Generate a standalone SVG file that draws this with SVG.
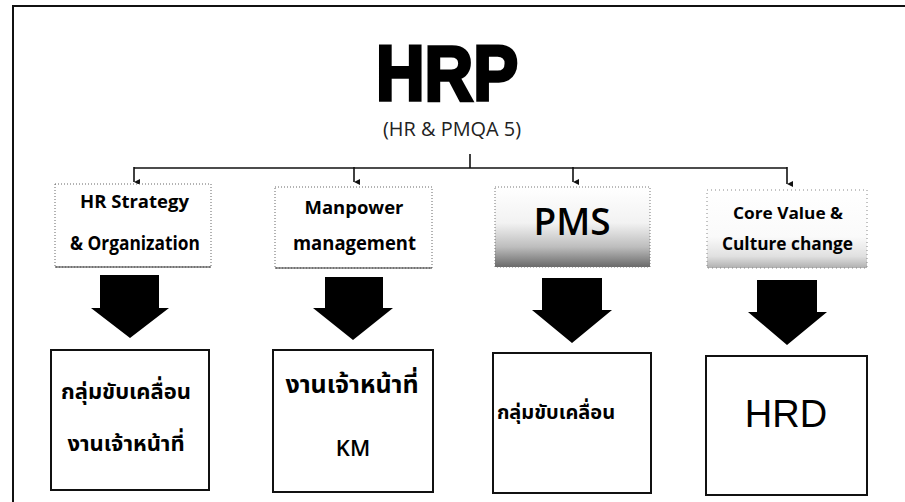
<svg xmlns="http://www.w3.org/2000/svg" width="905" height="502" viewBox="0 0 905 502">
  <defs>
    <style>
      .frame{stroke:#111;stroke-width:2;fill:none}
      .conn{stroke:#111;stroke-width:1.6;fill:none}
      .topbox{fill:#fff;stroke:#666;stroke-width:1;stroke-dasharray:1 2}
      .topbase{stroke:#333;stroke-width:1.2}
      .bigarrow{fill:#000}
      .botbox{fill:#fff;stroke:#111;stroke-width:2}
      .lbl{font-family:"Open Sans","DejaVu Sans",sans-serif;font-weight:bold;fill:#000;text-anchor:middle}
      .thai{font-family:"Noto Sans Thai","Noto Sans Thai UI","Loma","Tlwg Typo","DejaVu Sans",sans-serif;font-weight:bold;fill:#000;text-anchor:middle}
    </style>
    <marker id="tip" viewBox="0 0 6 6" refX="3" refY="6" markerWidth="6" markerHeight="6" orient="auto-start-reverse" markerUnits="userSpaceOnUse">
      <path d="M0,0 L6,0 L3,6 Z" fill="#111"/>
    </marker>
    <linearGradient id="pmsg" x1="0" y1="0" x2="0" y2="1">
      <stop offset="0" stop-color="#fff"/>
      <stop offset="0.45" stop-color="#f2f2f2"/>
      <stop offset="0.75" stop-color="#bdbdbd"/>
      <stop offset="1" stop-color="#6a6a6a"/>
    </linearGradient>
    <linearGradient id="coreg" x1="0" y1="0" x2="0" y2="1">
      <stop offset="0" stop-color="#fff"/>
      <stop offset="0.6" stop-color="#fafafa"/>
      <stop offset="0.85" stop-color="#e0e0e0"/>
      <stop offset="1" stop-color="#b0b0b0"/>
    </linearGradient>
  </defs>

  <g id="frame">
    <line class="frame" x1="12" y1="6" x2="905" y2="6"/>
    <line class="frame" x1="13" y1="5" x2="13" y2="502"/>
  </g>

  <g id="title">
    <text x="447" y="100" font-family="'Liberation Sans',Arial,sans-serif" font-weight="bold" font-size="78" fill="#000" stroke="#000" stroke-width="3.5" text-anchor="middle" textLength="142" lengthAdjust="spacingAndGlyphs">HRP</text>
    <text x="452" y="136" font-family="'Open Sans','DejaVu Sans',sans-serif" font-size="20" fill="#222" text-anchor="middle" textLength="138" lengthAdjust="spacingAndGlyphs">(HR &amp; PMQA 5)</text>
  </g>

  <g id="connectors">
    <line class="conn" x1="470" y1="154" x2="470" y2="168"/>
    <line class="conn" x1="134" y1="168" x2="787" y2="168"/>
    <line class="conn" x1="134" y1="167" x2="134" y2="182" marker-end="url(#tip)"/>
    <line class="conn" x1="354" y1="167" x2="354" y2="182" marker-end="url(#tip)"/>
    <line class="conn" x1="573" y1="167" x2="573" y2="182" marker-end="url(#tip)"/>
    <line class="conn" x1="787" y1="167" x2="787" y2="184" marker-end="url(#tip)"/>
    <polygon class="bigarrow" points="100,275 159,275 159,308 169,308 130,338 91,308 100,308"/>
    <polygon class="bigarrow" points="325,277 383,277 383,308 393,308 353,340 313,308 325,308"/>
    <polygon class="bigarrow" points="542,278 602,278 602,310 612,310 572,343 532,310 542,310"/>
    <polygon class="bigarrow" points="757,280 817,280 817,312 827,312 787,345 748,312 757,312"/>
  </g>

  <g id="node-hr-strategy">
    <rect class="topbox" x="55" y="184" width="156" height="83"/>
    <line class="topbase" x1="55" y1="267" x2="211" y2="267"/>
    <text class="lbl" x="134.5" y="208" font-size="17" textLength="109" lengthAdjust="spacingAndGlyphs">HR Strategy</text>
    <text class="lbl" x="135" y="250" font-size="19" textLength="130" lengthAdjust="spacingAndGlyphs">&amp; Organization</text>
  </g>

  <g id="node-manpower">
    <rect class="topbox" x="275" y="187" width="157" height="81"/>
    <line class="topbase" x1="275" y1="268" x2="432" y2="268"/>
    <text class="lbl" x="354" y="214" font-size="17" textLength="99" lengthAdjust="spacingAndGlyphs">Manpower</text>
    <text class="lbl" x="354.5" y="250" font-size="19" textLength="123" lengthAdjust="spacingAndGlyphs">management</text>
  </g>

  <g id="node-pms">
    <rect x="495" y="187" width="155" height="80" fill="url(#pmsg)" stroke="#777" stroke-width="1" stroke-dasharray="1 2"/>
    <text x="572" y="235" font-family="'Open Sans','DejaVu Sans',sans-serif" font-weight="600" font-size="37" fill="#000" text-anchor="middle" textLength="77" lengthAdjust="spacingAndGlyphs">PMS</text>
  </g>

  <g id="node-core-value">
    <rect x="707" y="190" width="160" height="78" fill="url(#coreg)" stroke="#888" stroke-width="1" stroke-dasharray="1 3"/>
    <text class="lbl" x="788" y="219" font-size="16" textLength="110" lengthAdjust="spacingAndGlyphs">Core Value &amp;</text>
    <text class="lbl" x="787.5" y="250" font-size="18" textLength="131" lengthAdjust="spacingAndGlyphs">Culture change</text>
  </g>

  <g id="node-group-staff">
    <rect class="botbox" x="51" y="350" width="158" height="140"/>
    <text class="thai" x="126" y="399" font-size="22">กลุ่มขับเคลื่อน</text>
    <text class="thai" x="126" y="451" font-size="22">งานเจ้าหน้าที่</text>
  </g>

  <g id="node-staff-km">
    <rect class="botbox" x="273" y="350" width="160" height="142"/>
    <text class="thai" x="352" y="393" font-size="25">งานเจ้าหน้าที่</text>
    <text x="353" y="456" font-family="'Open Sans','DejaVu Sans',sans-serif" font-weight="600" font-size="22" fill="#000" text-anchor="middle">KM</text>
  </g>

  <g id="node-group">
    <rect class="botbox" x="493" y="353" width="158" height="140"/>
    <text class="thai" x="556" y="419" font-size="20">กลุ่มขับเคลื่อน</text>
  </g>

  <g id="node-hrd">
    <rect class="botbox" x="706" y="356" width="161" height="139"/>
    <text x="786" y="427" font-family="'Liberation Sans',Arial,sans-serif" font-size="38" fill="#000" text-anchor="middle">HRD</text>
  </g>
</svg>
